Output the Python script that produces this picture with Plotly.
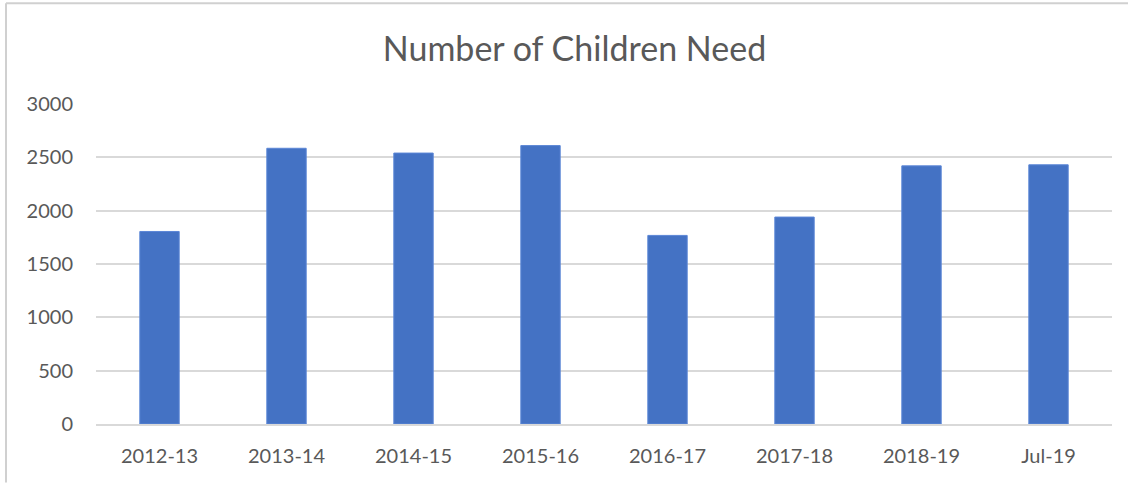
import plotly.graph_objects as go

categories = ["2012-13", "2013-14", "2014-15", "2015-16", "2016-17", "2017-18", "2018-19", "Jul-19"]
values = [1805, 2585, 2540, 2610, 1768, 1940, 2420, 2430]
y_ticks = [0, 500, 1000, 1500, 2000, 2500, 3000]

W, H = 1128, 483
L, R, T, B = 96, 16, 104, 58.5
pw, ph = W - L - R, H - T - B

def px(x):
    return (x - L) / pw

def py(y):
    return (H - B - y) / ph

fig = go.Figure(go.Bar(
    x=categories, y=values,
    marker=dict(color="#4472C4", line=dict(color="#5B86D6", width=1)),
    width=0.31,
))

fig.update_layout(
    width=W, height=H,
    margin=dict(l=L, r=R, t=T, b=B),
    paper_bgcolor="white", plot_bgcolor="white",
    font=dict(family="Lato, Open Sans, sans-serif", color="#595959", size=20),
    title=dict(text="Number of Children Need", x=(382 + 767) / 2 / W, xref="container", xanchor="center",
               y=1 - 49 / H, yref="container", yanchor="middle",
               font=dict(size=34, color="#595959")),
    showlegend=False,
    shapes=[
        dict(type="line", xref="paper", yref="paper", x0=px(6), x1=px(6), y0=py(3), y1=py(483),
             line=dict(color="#D0D0D0", width=2)),
        dict(type="line", xref="paper", yref="paper", x0=px(6), x1=px(1128), y0=py(3), y1=py(3),
             line=dict(color="#D0D0D0", width=2)),
    ],
)
fig.update_xaxes(showgrid=False, showline=True, linecolor="#D9D9D9", linewidth=1.5,
                 ticks="", ticklabelstandoff=13, tickfont=dict(size=20, color="#595959"))
fig.update_yaxes(range=[0, 3000], tickvals=y_ticks, showgrid=True, gridcolor="#D9D9D9", gridwidth=1.5,
                 zeroline=False, ticks="", ticklabelstandoff=22, tickfont=dict(size=20, color="#595959"))

fig.write_html("out.html")
